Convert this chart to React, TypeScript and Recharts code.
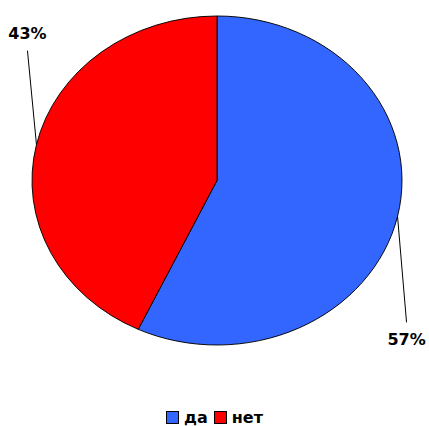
import { PieChart, Pie, Cell, Legend } from 'recharts';

// ─── Data ─────────────────────────────────────────────────────────────────────

const NAMES  = ['да', 'нет'];
const VALUES = [57, 43];
const COLORS = ['#3366FF', '#FF0000'];

const DATA = NAMES.map((name, i) => ({ name, value: VALUES[i] }));

// ─── Geometry (pie is drawn as a circle then squeezed into an ellipse) ───────

const W = 429;
const H = 426;
const CX = 217;
const CY = 180.5;
const RX = 185;
const RY = 164.5;
const SY = RY / RX;
const FONT = '"DejaVu Sans", Arial, sans-serif';

const RAD = Math.PI / 180;

function renderLabel(props: any) {
  const { midAngle, percent } = props;
  const c = Math.cos(-midAngle * RAD);
  const s = Math.sin(-midAngle * RAD);
  const x0 = CX + RX * c;
  const y0 = CY + RY * s;
  const x1 = x0 + 9 * Math.sign(c);
  const y1 = y0 + 100 * Math.sign(s) + 6;
  const ty = y1 + 17 * Math.sign(s);
  return (
    <g>
      <line x1={x0} y1={y0} x2={x1} y2={y1} stroke="#000" strokeWidth={1} />
      <text
        x={x1}
        y={ty}
        textAnchor="middle"
        dominantBaseline="central"
        fontFamily={FONT}
        fontWeight="bold"
        fontSize={16}
        fill="#000"
      >
        {`${Math.round(percent * 100)}%`}
      </text>
    </g>
  );
}

function LegendContent() {
  return (
    <div style={{ display: 'flex', justifyContent: 'center', alignItems: 'center', gap: 6, fontFamily: FONT, fontWeight: 'bold', fontSize: 16 }}>
      {NAMES.map((n, i) => (
        <span key={n} style={{ display: 'flex', alignItems: 'center', gap: 5 }}>
          <span style={{ display: 'inline-block', width: 11, height: 11, background: COLORS[i], border: '1px solid #000' }} />
          {n}
        </span>
      ))}
    </div>
  );
}

export default function App() {
  return (
    <div style={{ position: 'absolute', left: 0, top: 0, width: W, height: H, background: '#fff' }}>
      <style>{`
        .recharts-pie-sector path {
          transform-box: view-box;
          transform-origin: ${CX}px ${CY}px;
          transform: scaleY(${SY});
        }
      `}</style>
      <PieChart width={W} height={H} margin={{ top: 0, right: 0, bottom: 0, left: 0 }}>
        <Pie
          data={DATA}
          dataKey="value"
          nameKey="name"
          cx={CX}
          cy={CY}
          outerRadius={RX}
          startAngle={90}
          endAngle={-270}
          stroke="#000"
          strokeWidth={1}
          label={renderLabel}
          labelLine={false}
          isAnimationActive={false}
        >
          {DATA.map((d, i) => (
            <Cell key={d.name} fill={COLORS[i]} />
          ))}
        </Pie>
        <Legend
          content={<LegendContent />}
          wrapperStyle={{ position: 'absolute', top: 408, left: 0, width: W }}
        />
      </PieChart>
    </div>
  );
}
